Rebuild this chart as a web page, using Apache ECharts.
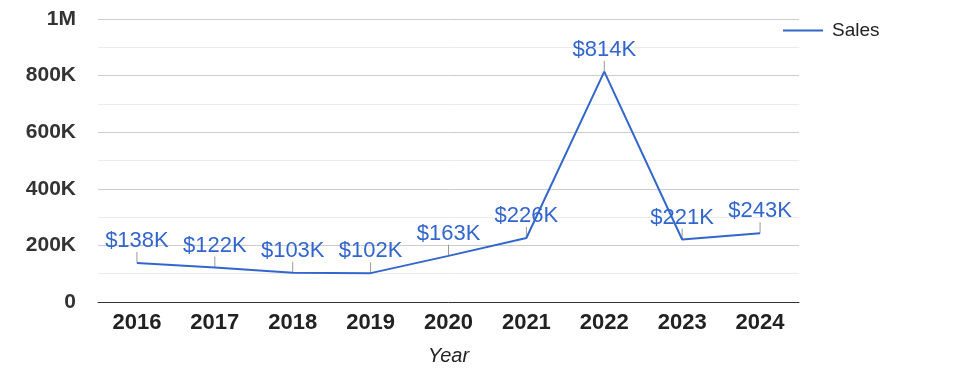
<!DOCTYPE html>
<html>
<head>
<meta charset="utf-8">
<script src="https://cdn.jsdelivr.net/npm/echarts@6/dist/echarts.min.js"></script>
<style>
  html, body { margin: 0; padding: 0; background: #fff; }
  #chart { width: 975px; height: 378px; }
</style>
</head>
<body>
<div id="chart"></div>
<script>
// 年份与销售额
var years = ['2016', '2017', '2018', '2019', '2020', '2021', '2022', '2023', '2024'];
var sales = [138000, 122000, 103000, 102000, 163000, 226000, 814000, 221000, 243000];
var yTicks = ['0', '200K', '400K', '600K', '800K', '1M'];

function fmtK(v){
    return '$' + Math.round(v / 1000) + 'K';
}

var dom = document.getElementById('chart');
var myChart = echarts.init(dom);
myChart.setOption({
    animation: false,
    grid: {
        top: 19,
        left: 98,
        right: 176,
        bottom: 76
    },
    legend: {
        data: ['Sales'],
        left: 778,
        top: 16,
        icon: 'rect',
        itemWidth: 40,
        itemHeight: 2,
        textStyle: {
            color: '#222',
            fontFamily: 'Arial, Liberation Sans, sans-serif',
            fontSize: 19,
            padding: [0, 0, 0, 4]
        }
    },
    xAxis: {
        type: 'category',
        data: years,
        name: 'Year',
        nameLocation: 'middle',
        nameGap: 44,
        nameTextStyle: {
            color: '#222',
            fontStyle: 'italic',
            fontFamily: 'Arial, Liberation Sans, sans-serif',
            fontSize: 20
        },
        axisLine: {
            lineStyle: { color: '#333', width: 1 }
        },
        axisTick: { show: false },
        axisLabel: {
            color: '#222',
            fontWeight: 'bold',
            fontFamily: 'Arial, Liberation Sans, sans-serif',
            fontSize: 22,
            margin: 10
        }
    },
    yAxis: {
        type: 'value',
        min: 0,
        max: 1000000,
        interval: 200000,
        axisLine: { show: false },
        axisTick: { show: false },
        axisLabel: {
            color: '#333',
            fontWeight: 'bold',
            fontFamily: 'Arial, Liberation Sans, sans-serif',
            fontSize: 21,
            margin: 22,
            formatter: function(v){
                return yTicks[Math.round(v / 200000)];
            }
        },
        splitLine: {
            lineStyle: { color: '#cccccc', width: 1 }
        },
        minorTick: { show: false, splitNumber: 2 },
        minorSplitLine: {
            show: true,
            lineStyle: { color: '#ebebeb', width: 1 }
        }
    },
    series: [
        {
            // 注释引线 + 标签
            name: 'stem',
            type: 'scatter',
            data: sales,
            silent: true,
            symbol: 'rect',
            symbolSize: [1, 11],
            symbolOffset: [0, -5.5],
            itemStyle: { color: '#999999', opacity: 1 },
            z: 1,
            label: {
                show: true,
                position: 'top',
                distance: 0,
                color: '#3366cc',
                fontFamily: 'Arial, Liberation Sans, sans-serif',
                fontSize: 22,
                formatter: function(p){
                    return fmtK(p.value);
                }
            }
        },
        {
            name: 'Sales',
            type: 'line',
            data: sales,
            showSymbol: false,
            symbol: 'none',
            lineStyle: { color: '#3366cc', width: 2 },
            itemStyle: { color: '#3366cc' },
            z: 2
        }
    ]
});
window.addEventListener('resize', function(){
    myChart.resize();
});
</script>
</body>
</html>
